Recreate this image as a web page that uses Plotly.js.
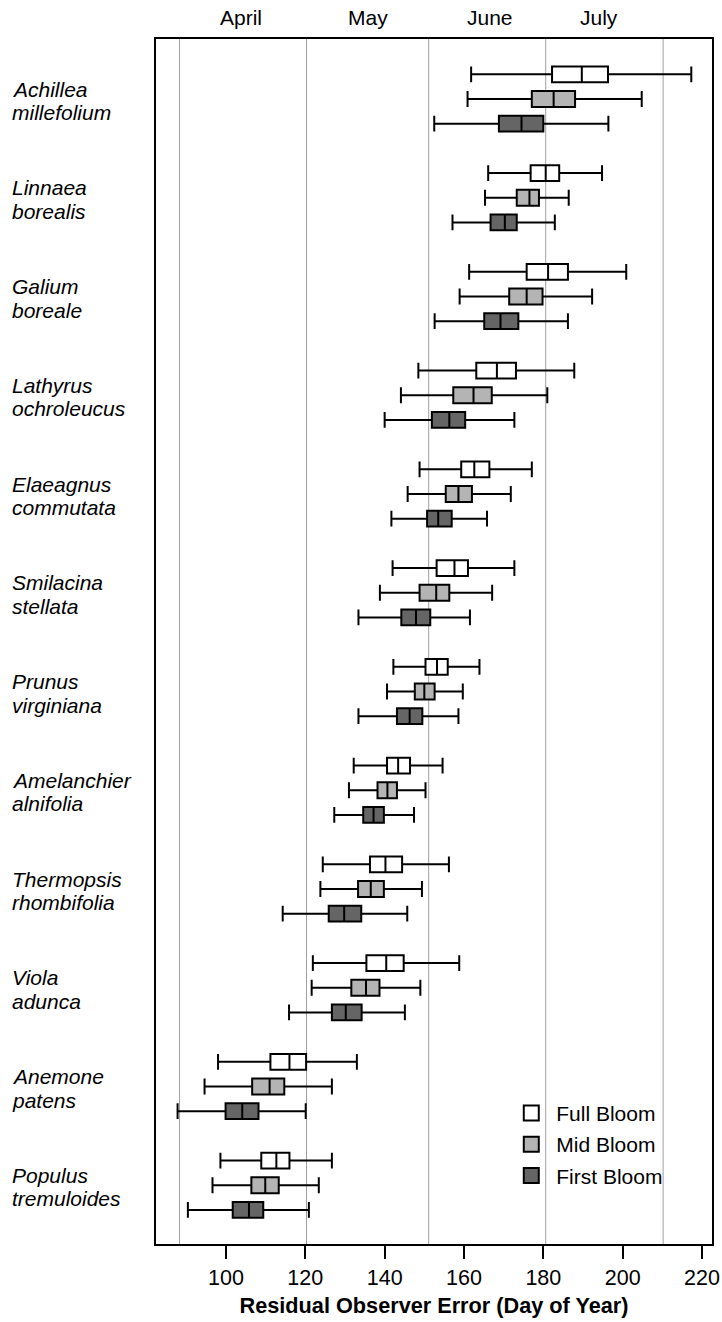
<!DOCTYPE html>
<html>
<head>
<meta charset="utf-8">
<script src="https://cdn.plot.ly/plotly-3.0.1.min.js"></script>
<style>
  html, body { margin: 0; padding: 0; background: #fff; }
  #chart { width: 722px; height: 1322px; }
</style>
</head>
<body>
<div id="chart"></div>
<script>
// ---------------- DATA ----------------
const species = [
  'Achillea millefolium', 'Linnaea borealis', 'Galium boreale', 'Lathyrus ochroleucus',
  'Elaeagnus commutata', 'Smilacina stellata', 'Prunus virginiana', 'Amelanchier alnifolia',
  'Thermopsis rhombifolia', 'Viola adunca', 'Anemone patens', 'Populus tremuloides'
];

const stages = ['Full Bloom', 'Mid Bloom', 'First Bloom'];

// Full Bloom
const fullLo  = [161.8, 166.1, 161.3, 148.5, 148.8, 142.0, 142.2, 132.2, 124.4, 121.9, 98.0, 98.6];
const fullQ1  = [182.2, 176.8, 175.8, 163.1, 159.3, 153.1, 150.3, 140.6, 136.3, 135.4, 111.2, 108.9];
const fullMed = [189.7, 180.6, 181.2, 168.3, 162.6, 157.6, 153.2, 143.4, 140.2, 140.4, 116.0, 112.7];
const fullQ3  = [196.3, 184.0, 186.2, 173.1, 166.4, 161.0, 155.9, 146.4, 144.4, 144.8, 120.2, 116.0];
const fullHi  = [217.3, 194.8, 200.9, 187.8, 177.1, 172.7, 163.9, 154.6, 156.2, 158.8, 133.0, 126.7];

// Mid Bloom
const midLo  = [160.9, 165.3, 158.9, 144.1, 145.8, 138.8, 140.6, 131.0, 123.8, 121.6, 94.6, 96.6];
const midQ1  = [177.1, 173.3, 171.4, 157.3, 155.4, 148.8, 147.6, 138.2, 133.3, 131.6, 106.6, 106.4];
const midMed = [182.6, 176.5, 175.8, 162.4, 158.6, 153.0, 150.0, 140.7, 136.5, 135.3, 111.0, 109.9];
const midQ3  = [188.0, 178.9, 179.8, 167.0, 162.0, 156.3, 152.6, 143.1, 139.8, 138.7, 114.7, 113.3];
const midHi  = [204.8, 186.4, 192.3, 181.0, 171.8, 167.1, 159.7, 150.3, 149.4, 149.0, 126.7, 123.4];

// First Bloom
const firstLo  = [152.5, 157.1, 152.6, 140.0, 141.7, 133.4, 133.4, 127.3, 114.3, 115.9, 87.8, 90.4];
const firstQ1  = [168.8, 166.7, 165.1, 151.9, 150.7, 144.2, 143.1, 134.6, 125.9, 126.7, 99.9, 101.7];
const firstMed = [174.5, 170.3, 169.2, 156.3, 153.5, 147.9, 146.3, 137.2, 129.8, 130.2, 104.1, 105.8];
const firstQ3  = [180.0, 173.3, 173.7, 160.3, 156.9, 151.5, 149.5, 139.8, 134.1, 134.2, 108.2, 109.4];
const firstHi  = [196.4, 182.9, 186.2, 172.7, 165.8, 161.5, 158.6, 147.4, 145.7, 145.1, 120.1, 120.9];

// month boundaries (day of year) and month labels
const monthLines = [88.3, 120.3, 151.1, 180.6, 210.2];
const months = ['April', 'May', 'June', 'July'];
const monthLabelX = [103.9, 135.7, 166.6, 194.1];

const xTicks = [100, 120, 140, 160, 180, 200, 220];

// ---------------- LAYOUT HELPERS ----------------
const FONT = 'Liberation Sans, Arial, Helvetica, sans-serif';
const n = species.length;
const groupMid = species.map((s, i) => (n - 1 - i) * 4);   // 44 ... 0
const yFull  = groupMid.map(v => v + 1);
const yMid   = groupMid;
const yFirst = groupMid.map(v => v - 1);

const fills = { 'Full Bloom': '#ffffff', 'Mid Bloom': '#b4b4b4', 'First Bloom': '#656565' };

function boxTrace(name, y, lo, q1, med, q3, hi) {
  return {
    type: 'box', orientation: 'h', name: name, showlegend: false,
    y: y, lowerfence: lo, q1: q1, median: med, q3: q3, upperfence: hi,
    width: 0.64, whiskerwidth: 1, boxpoints: false,
    fillcolor: fills[name],
    line: { color: '#000000', width: 2 },
    hoverinfo: 'x'
  };
}

const traces = [
  boxTrace('Full Bloom', yFull, fullLo, fullQ1, fullMed, fullQ3, fullHi),
  boxTrace('Mid Bloom', yMid, midLo, midQ1, midMed, midQ3, midHi),
  boxTrace('First Bloom', yFirst, firstLo, firstQ1, firstMed, firstQ3, firstHi)
];

// legend entries
stages.forEach(s => {
  traces.push({
    type: 'scatter', mode: 'markers', x: [null], y: [null], name: s, showlegend: true,
    legendgroup: s,
    marker: { symbol: 'square', size: 15, color: fills[s], line: { color: '#000000', width: 2 } },
    hoverinfo: 'skip'
  });
});

const shapes = monthLines.map(d => ({
  type: 'line', xref: 'x', yref: 'paper', x0: d, x1: d, y0: 0, y1: 1,
  line: { color: '#a0a0a0', width: 1 }, layer: 'below'
}));

const annotations = [];
months.forEach((m, i) => {
  annotations.push({
    text: m, xref: 'x', yref: 'paper', x: monthLabelX[i], y: 1, yshift: 21.5,
    xanchor: 'center', yanchor: 'middle', showarrow: false,
    font: { family: FONT, size: 21, color: '#000' }
  });
});

const plotLeft = 156, plotRight = 712;
const labelX = (10 - plotLeft) / (plotRight - plotLeft);
species.forEach((s, i) => {
  const parts = s.split(' ');
  annotations.push({
    text: parts[0], xref: 'paper', yref: 'y', x: labelX, y: yMid[i], yshift: 9.8,
    xanchor: 'left', yanchor: 'middle', showarrow: false,
    font: { family: FONT, size: 21, color: '#000', style: 'italic' }
  });
  annotations.push({
    text: parts[1], xref: 'paper', yref: 'y', x: labelX, y: yMid[i], yshift: -13.7,
    xanchor: 'left', yanchor: 'middle', showarrow: false,
    font: { family: FONT, size: 21, color: '#000', style: 'italic' }
  });
});

const layout = {
  width: 722, height: 1322,
  margin: { l: plotLeft, r: 722 - plotRight, t: 39, b: 78, pad: 0 },
  paper_bgcolor: '#ffffff', plot_bgcolor: '#ffffff',
  font: { family: FONT, size: 21, color: '#000' },
  boxmode: 'overlay',
  showlegend: true,
  legend: {
    x: 0.630, y: 0.1255, xanchor: 'left', yanchor: 'top',
    bgcolor: 'rgba(0,0,0,0)', borderwidth: 0,
    font: { family: FONT, size: 21, color: '#000' },
    itemwidth: 40, tracegroupgap: 1
  },
  xaxis: {
    range: [82.36, 222.52], tickvals: xTicks, ticktext: xTicks.map(String),
    showgrid: false, zeroline: false,
    showline: true, mirror: true, linecolor: '#000', linewidth: 2,
    ticks: 'outside', ticklen: 13, tickwidth: 2, tickcolor: '#000',
    tickfont: { family: FONT, size: 21.5, color: '#000' },
    title: { text: '<b>Residual Observer Error (Day of Year)</b>', font: { family: FONT, size: 21.7, color: '#000' }, standoff: 9 },
    fixedrange: true
  },
  yaxis: {
    range: [-2.38, 46.43], showticklabels: false, ticks: '',
    showgrid: false, zeroline: false,
    showline: true, mirror: true, linecolor: '#000', linewidth: 2,
    fixedrange: true
  },
  shapes: shapes,
  annotations: annotations
};

Plotly.newPlot('chart', traces, layout, { displayModeBar: false, staticPlot: true });
</script>
</body>
</html>
